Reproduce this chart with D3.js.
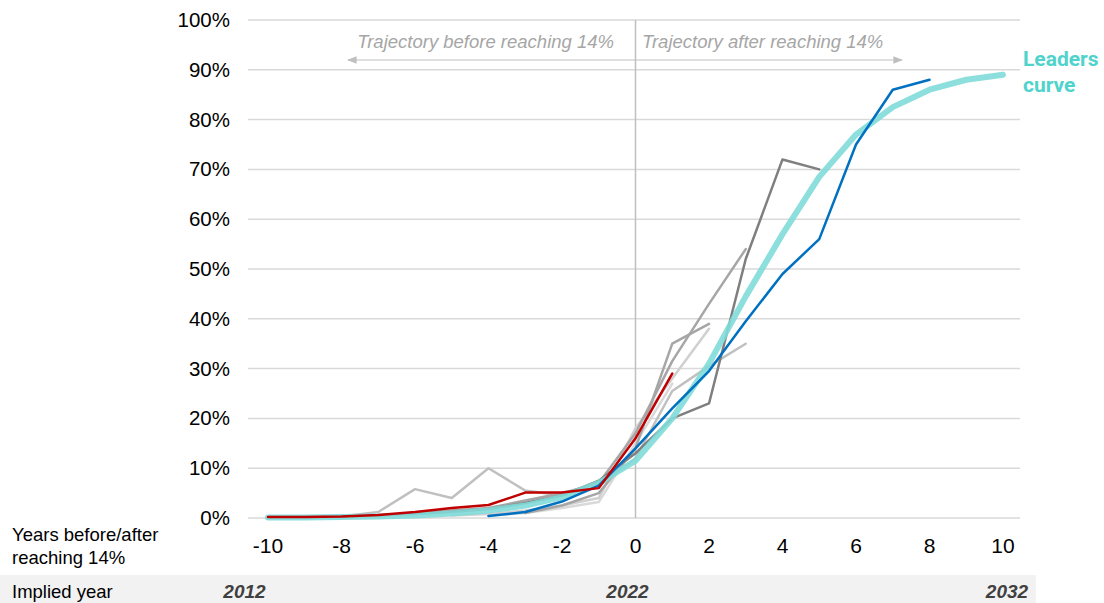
<!DOCTYPE html>
<html>
<head>
<meta charset="utf-8">
<script src="https://cdn.jsdelivr.net/npm/d3@7"></script>
<style>
  body { margin: 0; background: #fff; }
  svg { font-family: "Liberation Sans", Arial, sans-serif; }
</style>
</head>
<body>
<svg id="chart" width="1104" height="603"></svg>
<script>
// years relative to reaching 14%
var years = d3.range(-10, 11);
var yTicks = [0, 10, 20, 30, 40, 50, 60, 70, 80, 90, 100];
var xTicks = [-10, -8, -6, -4, -2, 0, 2, 4, 6, 8, 10];
var impliedYears = [{t: -10, label: "2012"}, {t: 0, label: "2022"}, {t: 10, label: "2032"}];

// each series: first year + values (share %)
var leaders = {start: -10, values: [0.1, 0.1, 0.2, 0.3, 0.5, 0.9, 1.5, 2.5, 4.2, 7, 11.5, 20, 31, 44.5, 57, 68.5, 77, 82.5, 86, 88, 89]};
var blue = {start: -4, values: [0.4, 1.2, 3.3, 6.5, 14, 22, 29.5, 39.5, 49, 56, 75, 86, 88]};
var red = {start: -10, values: [0.2, 0.2, 0.3, 0.6, 1.2, 2, 2.6, 5.1, 5.1, 6, 16, 29]};
var darkGrey = {start: -10, values: [0.2, 0.2, 0.3, 0.5, 0.8, 1.2, 1.8, 3, 4.5, 7.5, 13, 20, 23, 52, 72, 70]};
var greyA = {start: -6, values: [1, 1.5, 2, 3.5, 5, 7, 17, 31.5, 43, 54]};
var greyB = {start: -3, values: [1, 2.5, 5, 14, 35, 39]};
var greyC = {start: -8, values: [0.3, 1.2, 5.8, 4, 10, 5.5, 4.5, 6.5, 12, 25.5, 30.5, 35]};
var greyD = {start: -5, values: [0.5, 0.8, 1.5, 2.5, 4, 18, 28, 38]};
var greyE = {start: -4, values: [0.5, 1, 2, 3.2, 15, 27]};

var svg = d3.select("#chart");

var x = d3.scaleLinear().domain([-10, 10]).range([268, 1003]);
var y = d3.scaleLinear().domain([0, 100]).range([518, 20]);

// implied year band
svg.append("rect")
  .attr("x", 0).attr("y", 575).attr("width", 1036).attr("height", 28)
  .attr("fill", "#f2f2f2");

// horizontal gridlines
svg.append("g")
  .selectAll("line")
  .data(yTicks)
  .enter()
  .append("line")
  .attr("x1", 248).attr("x2", 1020)
  .attr("y1", function(d) { return y(d); })
  .attr("y2", function(d) { return y(d); })
  .attr("stroke", "#d9d9d9")
  .attr("stroke-width", 1.5);

// y labels
svg.append("g")
  .selectAll("text")
  .data(yTicks)
  .enter()
  .append("text")
  .attr("x", 230)
  .attr("y", function(d) { return y(d) + 7; })
  .attr("text-anchor", "end")
  .attr("font-size", 20.5)
  .attr("fill", "#000")
  .text(function(d) { return d + "%"; });

// x axis labels
svg.append("g")
  .selectAll("text")
  .data(xTicks)
  .enter()
  .append("text")
  .attr("x", function(d) { return x(d); })
  .attr("y", 553)
  .attr("text-anchor", "middle")
  .attr("font-size", 21)
  .attr("fill", "#000")
  .text(function(d) { return d; });

svg.append("text").attr("x", 12).attr("y", 541).attr("font-size", 18.5).text("Years before/after");
svg.append("text").attr("x", 12).attr("y", 564).attr("font-size", 18.5).text("reaching 14%");
svg.append("text").attr("x", 12).attr("y", 598).attr("font-size", 18.5).text("Implied year");

var yearOffsets = [-23.5, -8, 4];
svg.append("g")
  .selectAll("text")
  .data(impliedYears)
  .enter()
  .append("text")
  .attr("x", function(d, i) { return x(d.t) + yearOffsets[i]; })
  .attr("y", 598)
  .attr("text-anchor", "middle")
  .attr("font-size", 19)
  .attr("font-weight", "bold")
  .attr("font-style", "italic")
  .attr("fill", "#404040")
  .text(function(d) { return d.label; });

// vertical line at year 0
svg.append("line")
  .attr("x1", x(0)).attr("x2", x(0))
  .attr("y1", 20).attr("y2", y(0))
  .attr("stroke", "#bfbfbf")
  .attr("stroke-width", 1.5);

// annotation arrows
var defs = svg.append("defs");
defs.append("marker")
  .attr("id", "head")
  .attr("viewBox", "0 0 10 10")
  .attr("refX", 9).attr("refY", 5)
  .attr("markerWidth", 8).attr("markerHeight", 8)
  .attr("orient", "auto-start-reverse")
  .append("path")
  .attr("d", "M0,1 L10,5 L0,9 Z")
  .attr("fill", "#bfbfbf");

svg.append("line")
  .attr("x1", x(0)).attr("x2", 348)
  .attr("y1", 60).attr("y2", 60)
  .attr("stroke", "#bfbfbf").attr("stroke-width", 1.2)
  .attr("marker-end", "url(#head)");
svg.append("line")
  .attr("x1", x(0)).attr("x2", 902)
  .attr("y1", 60).attr("y2", 60)
  .attr("stroke", "#bfbfbf").attr("stroke-width", 1.2)
  .attr("marker-end", "url(#head)");

svg.append("text")
  .attr("x", 614).attr("y", 48)
  .attr("text-anchor", "end")
  .attr("font-size", 18.5).attr("font-style", "italic").attr("fill", "#a6a6a6")
  .text("Trajectory before reaching 14%");
svg.append("text")
  .attr("x", 642).attr("y", 48)
  .attr("font-size", 18.5).attr("font-style", "italic").attr("fill", "#a6a6a6")
  .text("Trajectory after reaching 14%");

// lines
var line = d3.line()
  .x(function(d) { return x(d[0]); })
  .y(function(d) { return y(d[1]); });

function pts(s) {
  return s.values.map(function(v, i) { return [s.start + i, v]; });
}

var series = [
  {s: greyE, color: "#d9d9d9", w: 2.5},
  {s: greyD, color: "#d0d0d0", w: 2.5},
  {s: greyC, color: "#c0c0c0", w: 2.5},
  {s: greyB, color: "#a6a6a6", w: 2.5},
  {s: greyA, color: "#a6a6a6", w: 2.5},
  {s: darkGrey, color: "#7f7f7f", w: 2.5},
  {s: leaders, color: "#7fdcd8", w: 6, op: 0.9},
  {s: blue, color: "#0070c0", w: 2.5},
  {s: red, color: "#c00000", w: 2.5}
];

svg.append("g")
  .selectAll("path")
  .data(series)
  .enter()
  .append("path")
  .attr("d", function(d) { return line(pts(d.s)); })
  .attr("fill", "none")
  .attr("stroke", function(d) { return d.color; })
  .attr("stroke-width", function(d) { return d.w; })
  .attr("stroke-opacity", function(d) { return d.op || 1; })
  .attr("stroke-linejoin", "round")
  .attr("stroke-linecap", "round");

// legend label
svg.append("text")
  .attr("x", 1023).attr("y", 66)
  .attr("font-family", "Roboto, sans-serif")
  .attr("font-size", 21).attr("font-weight", "bold").attr("fill", "#4fd3cc")
  .text("Leaders");
svg.append("text")
  .attr("x", 1023).attr("y", 92)
  .attr("font-family", "Roboto, sans-serif")
  .attr("font-size", 21).attr("font-weight", "bold").attr("fill", "#4fd3cc")
  .text("curve");
</script>
</body>
</html>
